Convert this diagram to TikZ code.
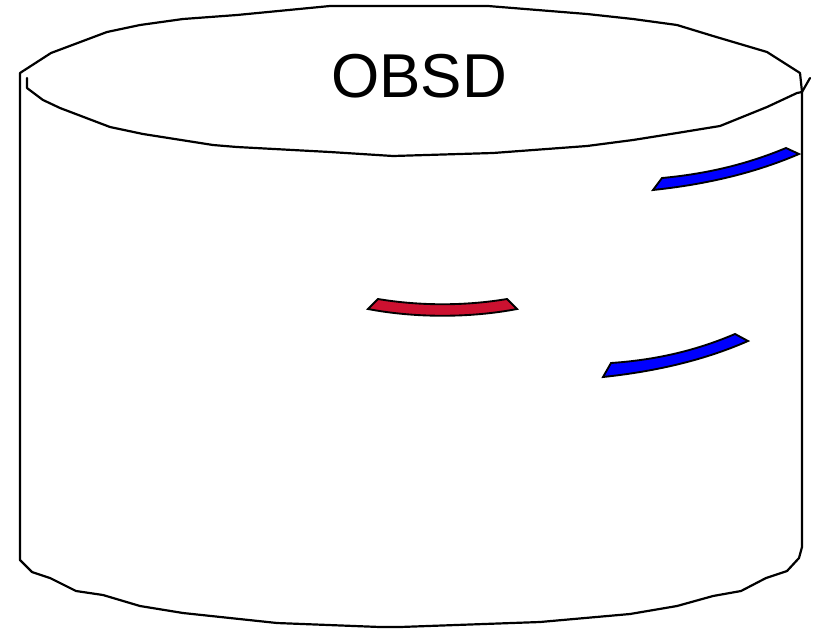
\documentclass[tikz,border=0pt]{standalone}
\usepackage{fontspec}
\setmainfont{Liberation Sans}
\definecolor{bandred}{RGB}{204,17,48}
\definecolor{bandblue}{RGB}{0,0,255}
\begin{document}
\begin{tikzpicture}[x=0.75pt,y=-0.75pt,
  outline/.style={draw=black,line width=1.65pt,line join=round,line cap=round},
  band/.style={draw=black,line width=1.4pt,line join=miter}]
\useasboundingbox (0,0) rectangle (816,629);
% outer body: top rim, right side, bottom, left side
\draw[outline] (20,560) -- (20,73) -- (51,53) -- (107,32) -- (140,25) -- (183,19) -- (237,15) -- (330,6)
  -- (488,6) -- (587,14) -- (633,19) -- (677,25) -- (713,36) -- (767,52) -- (800,73) -- (802,92) -- (802,547)
  -- (799,558) -- (787,571) -- (766,578) -- (741,591) -- (713,596) -- (677,606) -- (630,614) -- (540,622)
  -- (400,627) -- (380,627) -- (277,623) -- (183,613) -- (140,606) -- (103,595) -- (76,591) -- (50,578)
  -- (32,572) -- cycle;
% front edge of the top ellipse
\draw[outline] (27,78) -- (27,88) -- (43,100) -- (60,108) -- (110,127) -- (143,134) -- (213,145) -- (237,147)
  -- (330,152) -- (393,156) -- (493,153) -- (587,146) -- (633,140) -- (677,133) -- (720,126) -- (767,107)
  -- (797,93) -- (802,92) -- (810,78);
\node[font=\fontsize{46.5}{56}\selectfont,inner sep=0pt] (title) at (419,76) {OBSD};
% bands
\filldraw[band,fill=bandblue] (653,190) .. controls (700,185) and (750,175) .. (799,154) -- (786,148)
  .. controls (745,165) and (705,174) .. (662,178) -- cycle;
\filldraw[band,fill=bandblue] (603,377) .. controls (650,372) and (700,362) .. (748,341) -- (735,334)
  .. controls (695,351) and (655,360) .. (611,363) -- cycle;
\filldraw[band,fill=bandred] (368,309) .. controls (415,318) and (470,318) .. (517,309) -- (507,299)
  .. controls (465,306) and (420,306) .. (378,299) -- cycle;
\end{tikzpicture}
\end{document}
